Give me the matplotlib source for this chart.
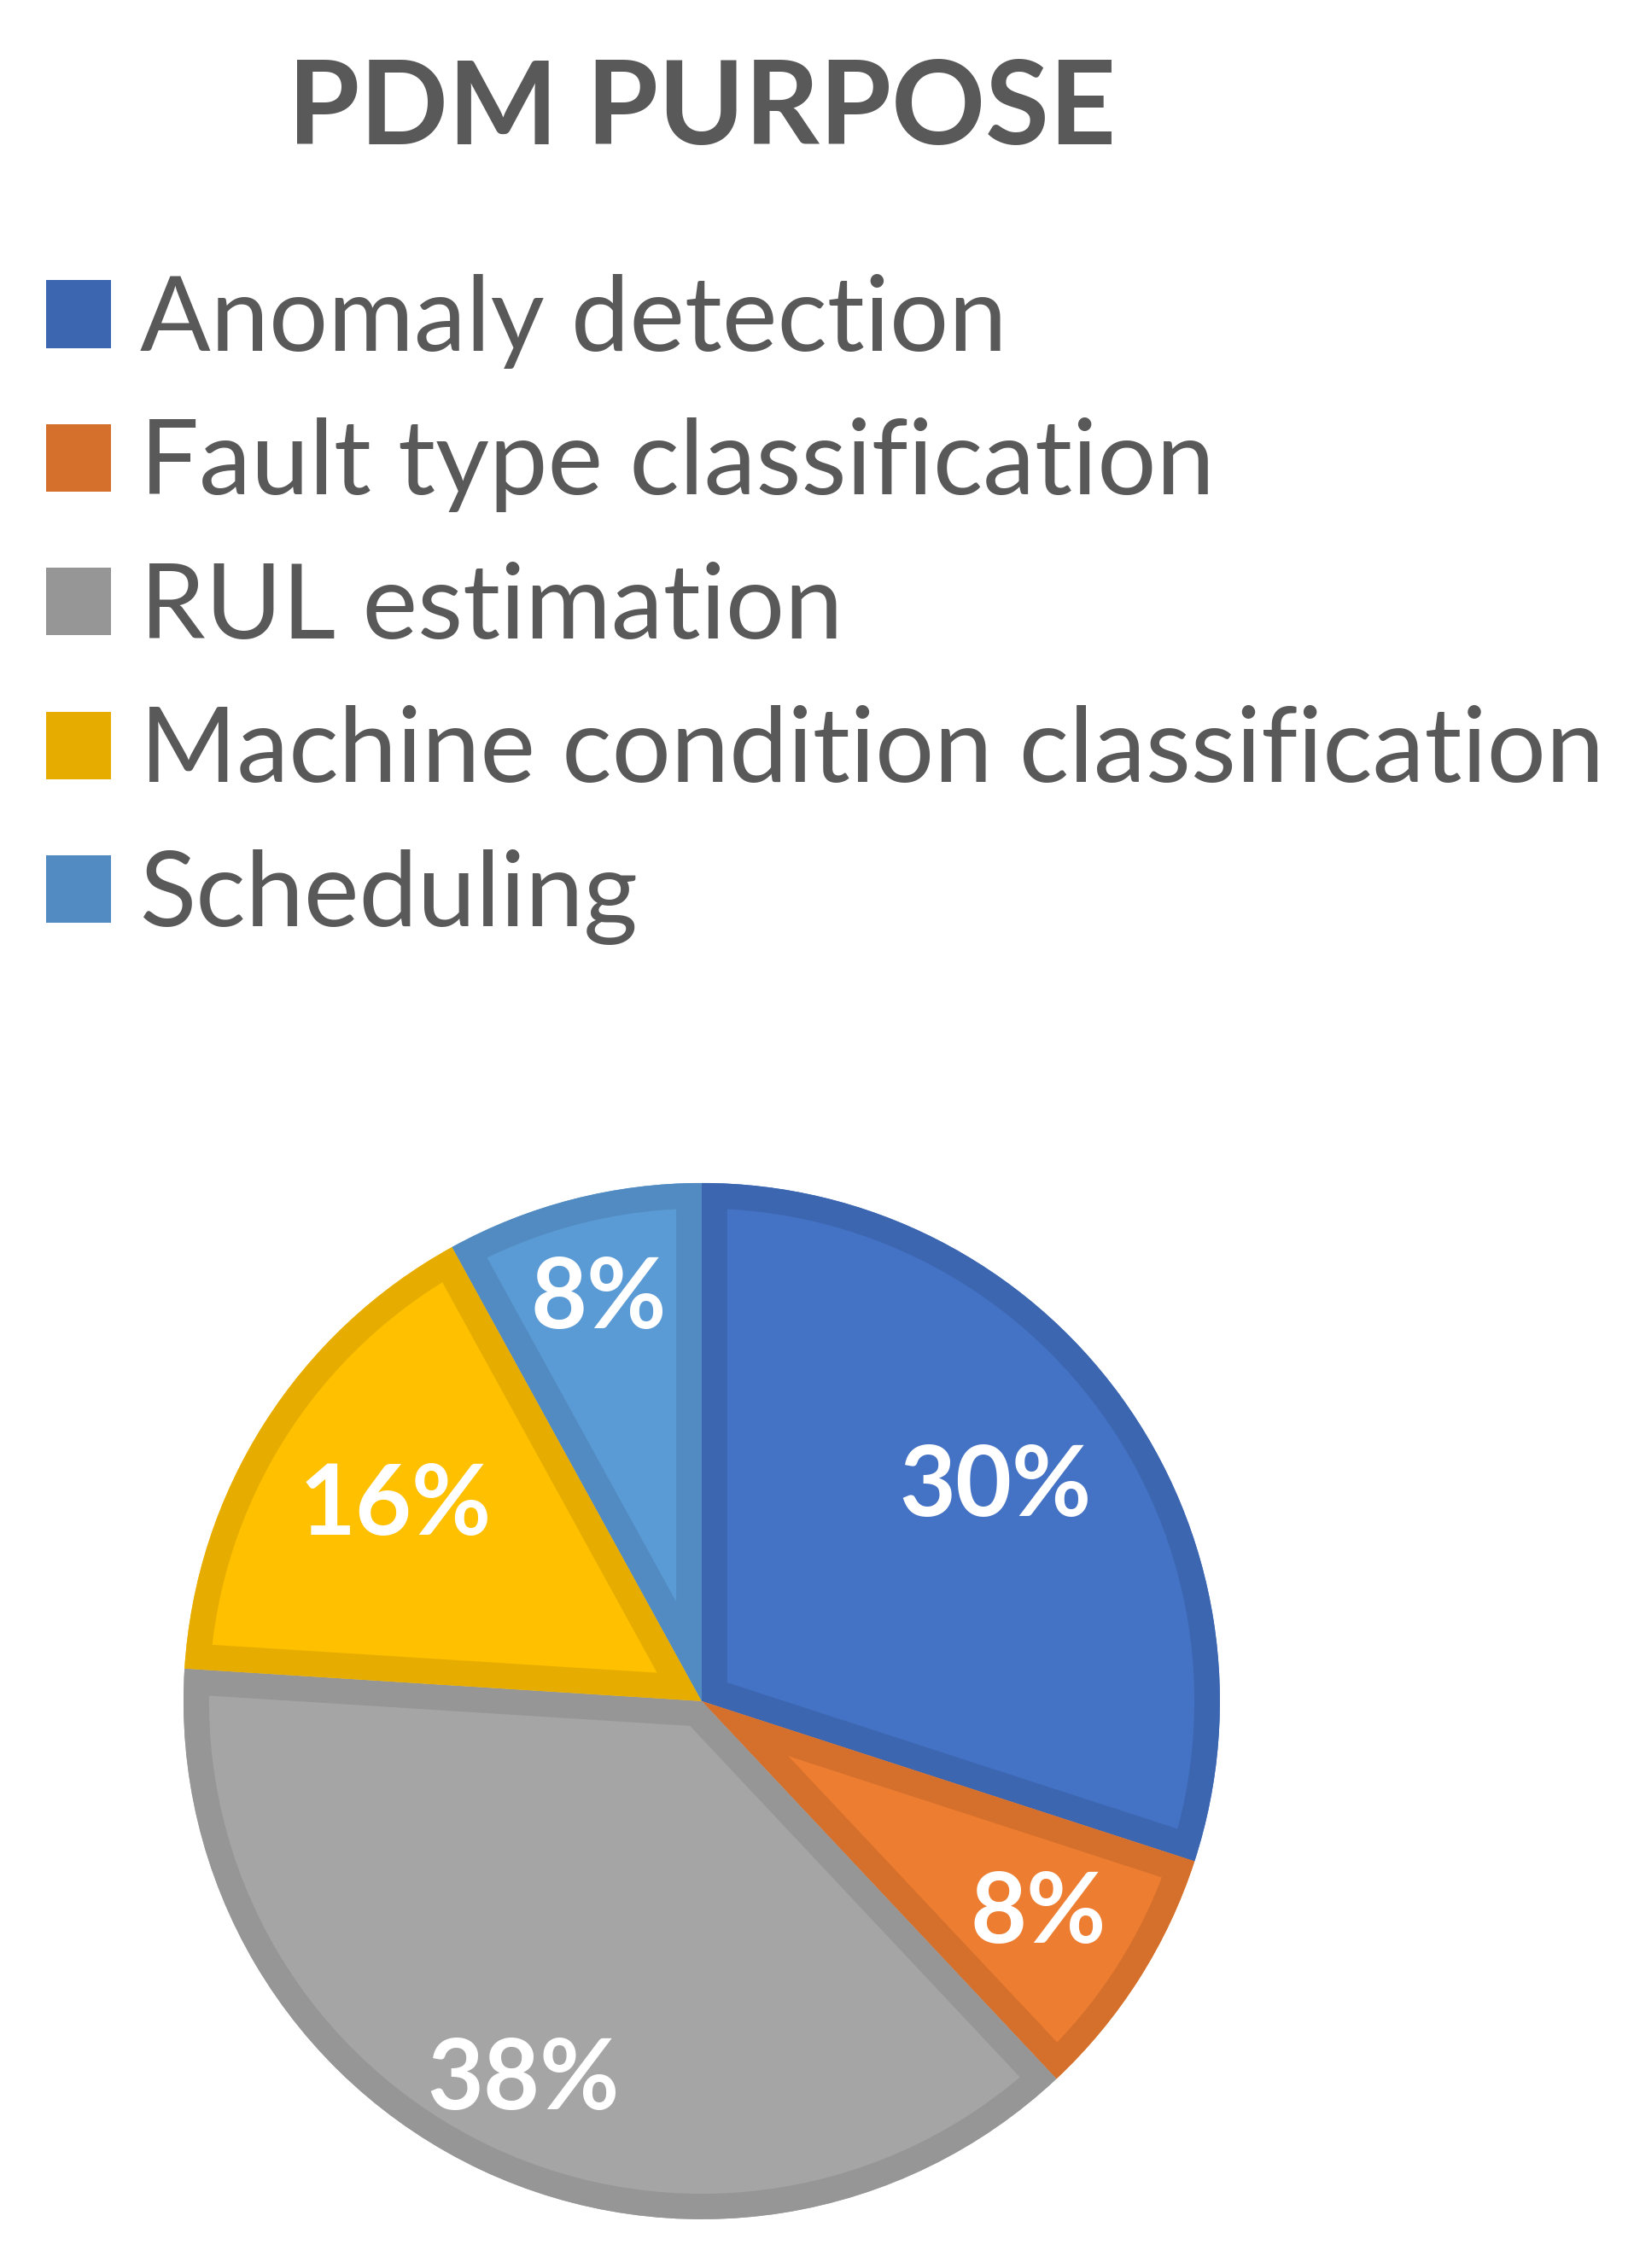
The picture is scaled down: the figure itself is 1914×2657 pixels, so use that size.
import matplotlib.pyplot as plt
from matplotlib.patches import Patch, Wedge

# data
categories = ["Anomaly detection", "Fault type classification", "RUL estimation",
              "Machine condition classification", "Scheduling"]
shares = [30, 8, 38, 16, 8]
fill_colors = ["#4472C4", "#ED7D31", "#A5A5A5", "#FFC000", "#5B9BD5"]
edge_colors = ["#3C66B0", "#D5702C", "#969696", "#E6AD00", "#528BC1"]
label_dist = [0.70, 0.77, 0.81, 0.70, 0.80]

plt.rcParams['font.family'] = ['Lato', 'DejaVu Sans']
text_grey = "#595959"

fig = plt.figure(figsize=(19.14, 26.57), dpi=100)
fig.patch.set_facecolor("white")

fig.text(0.4295, 1 - 169 / 2657, "PDM PURPOSE", ha="center", va="baseline",
         fontsize=98, fontweight="bold", color=text_grey)

ax = fig.add_axes([0.1123, 0.0215, 0.6343, 0.4569])
wedges, texts, autotexts = ax.pie(
    shares, colors=fill_colors, startangle=90, counterclock=False,
    autopct="%1.0f%%", pctdistance=0.75,
    wedgeprops=dict(linewidth=0),
    textprops=dict(color="white", fontsize=82, fontweight="bold"))
ax.set_xlim(-1, 1)
ax.set_ylim(-1, 1)
ax.set_aspect("equal")

# darker border drawn inside each wedge: a copy of the wedge outline, clipped by the wedge
for w, ec in zip(wedges, edge_colors):
    border = Wedge(w.center, w.r, w.theta1, w.theta2, facecolor="none",
                   edgecolor=ec, linewidth=43, joinstyle="miter", zorder=w.get_zorder())
    ax.add_patch(border)
    border.set_clip_path(w)
for t in autotexts:
    t.set_zorder(5)

for t, d in zip(autotexts, label_dist):
    x, y = t.get_position()
    t.set_position((x / 0.75 * d, y / 0.75 * d))

handles = [Patch(facecolor=c, edgecolor="none") for c in edge_colors]
leg = fig.legend(handles, categories, loc="upper left",
                 bbox_to_anchor=(54 / 1914, 1 - 321 / 2657),
                 frameon=False, fontsize=88, borderpad=0, borderaxespad=0,
                 handlelength=0.62, handleheight=0.62, handletextpad=0.28,
                 labelspacing=0.47)
for t in leg.get_texts():
    t.set_color(text_grey)

fig.savefig("out.png", dpi=100, facecolor="white")
